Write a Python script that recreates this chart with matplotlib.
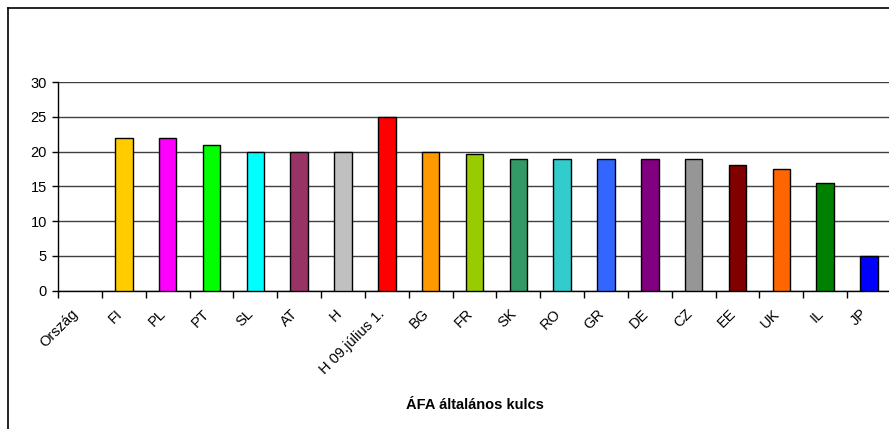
import matplotlib
matplotlib.use("Agg")
import matplotlib.pyplot as plt
import matplotlib.transforms as mtransforms
from matplotlib.lines import Line2D
import numpy as np

plt.rcParams['font.family'] = ['Liberation Sans', 'DejaVu Sans']

countries = ["Ország", "FI", "PL", "PT", "SL", "AT", "H", "H 09.július 1.", "BG", "FR",
             "SK", "RO", "GR", "DE", "CZ", "EE", "UK", "IL", "JP"]
vat_rates = [np.nan, 22, 22, 21, 20, 20, 20, 25, 20, 19.6,
             19, 19, 19, 19, 19, 18, 17.5, 15.5, 5]
bar_colors = ["#FFFFFF", "#FFCC00", "#FF00FF", "#00FF00", "#00FFFF", "#993366", "#C0C0C0",
              "#FF0000", "#FF9900", "#99CC00", "#339966", "#33CCCC", "#3366FF", "#800080",
              "#969696", "#800000", "#FF6600", "#008000", "#0000FF"]
y_ticks = [0, 5, 10, 15, 20, 25, 30]
x_title = "ÁFA általános kulcs"

W, H = 889, 429
fig = plt.figure(figsize=(W / 100, H / 100), dpi=100)

# chart area border (extends past the right and bottom edges)
fig.add_artist(Line2D([8 / W, 8 / W], [0, 1 - 8 / H], color="black", lw=1.2, transform=fig.transFigure))
fig.add_artist(Line2D([8 / W, 1.0], [1 - 8 / H, 1 - 8 / H], color="black", lw=1.2, transform=fig.transFigure))

left, right, top, bottom = 58, 891, 82, 290.7
ax = fig.add_axes([left / W, 1 - bottom / H, (right - left) / W, (bottom - top) / H])

x = np.arange(len(countries))
ax.bar(x, vat_rates, width=0.4, color=bar_colors, edgecolor="black", linewidth=1, zorder=3)

ax.set_xlim(-0.5, len(countries) - 0.5)
ax.set_ylim(0, 30)
ax.set_yticks(y_ticks)
ax.yaxis.grid(True, color="#404040", linewidth=1)
ax.set_axisbelow(True)

for side in ("top", "right"):
    ax.spines[side].set_visible(False)
ax.spines["left"].set_linewidth(1)
ax.spines["bottom"].set_linewidth(1)

ax.tick_params(axis="y", direction="out", length=4, width=1, labelsize=10.5, pad=4)

# category separators as ticks, names centred between them
ax.set_xticks(np.arange(len(countries) + 1) - 0.5, minor=True)
ax.tick_params(axis="x", which="minor", direction="out", length=5, width=1)
ax.set_xticks(x)
ax.set_xticklabels(countries, rotation=45, ha="right", va="center", rotation_mode="anchor")
ax.tick_params(axis="x", which="major", length=0, labelsize=10.5, pad=15)
offset = mtransforms.ScaledTranslation(-4 / 100, 0, fig.dpi_scale_trans)
for lbl in ax.get_xticklabels():
    lbl.set_transform(lbl.get_transform() + offset)

fig.text((left + right) / 2 / W, 1 - 405 / H, x_title, ha="center", va="center",
         fontsize=10.5, fontweight="bold")

fig.savefig("out.png", dpi=100)
